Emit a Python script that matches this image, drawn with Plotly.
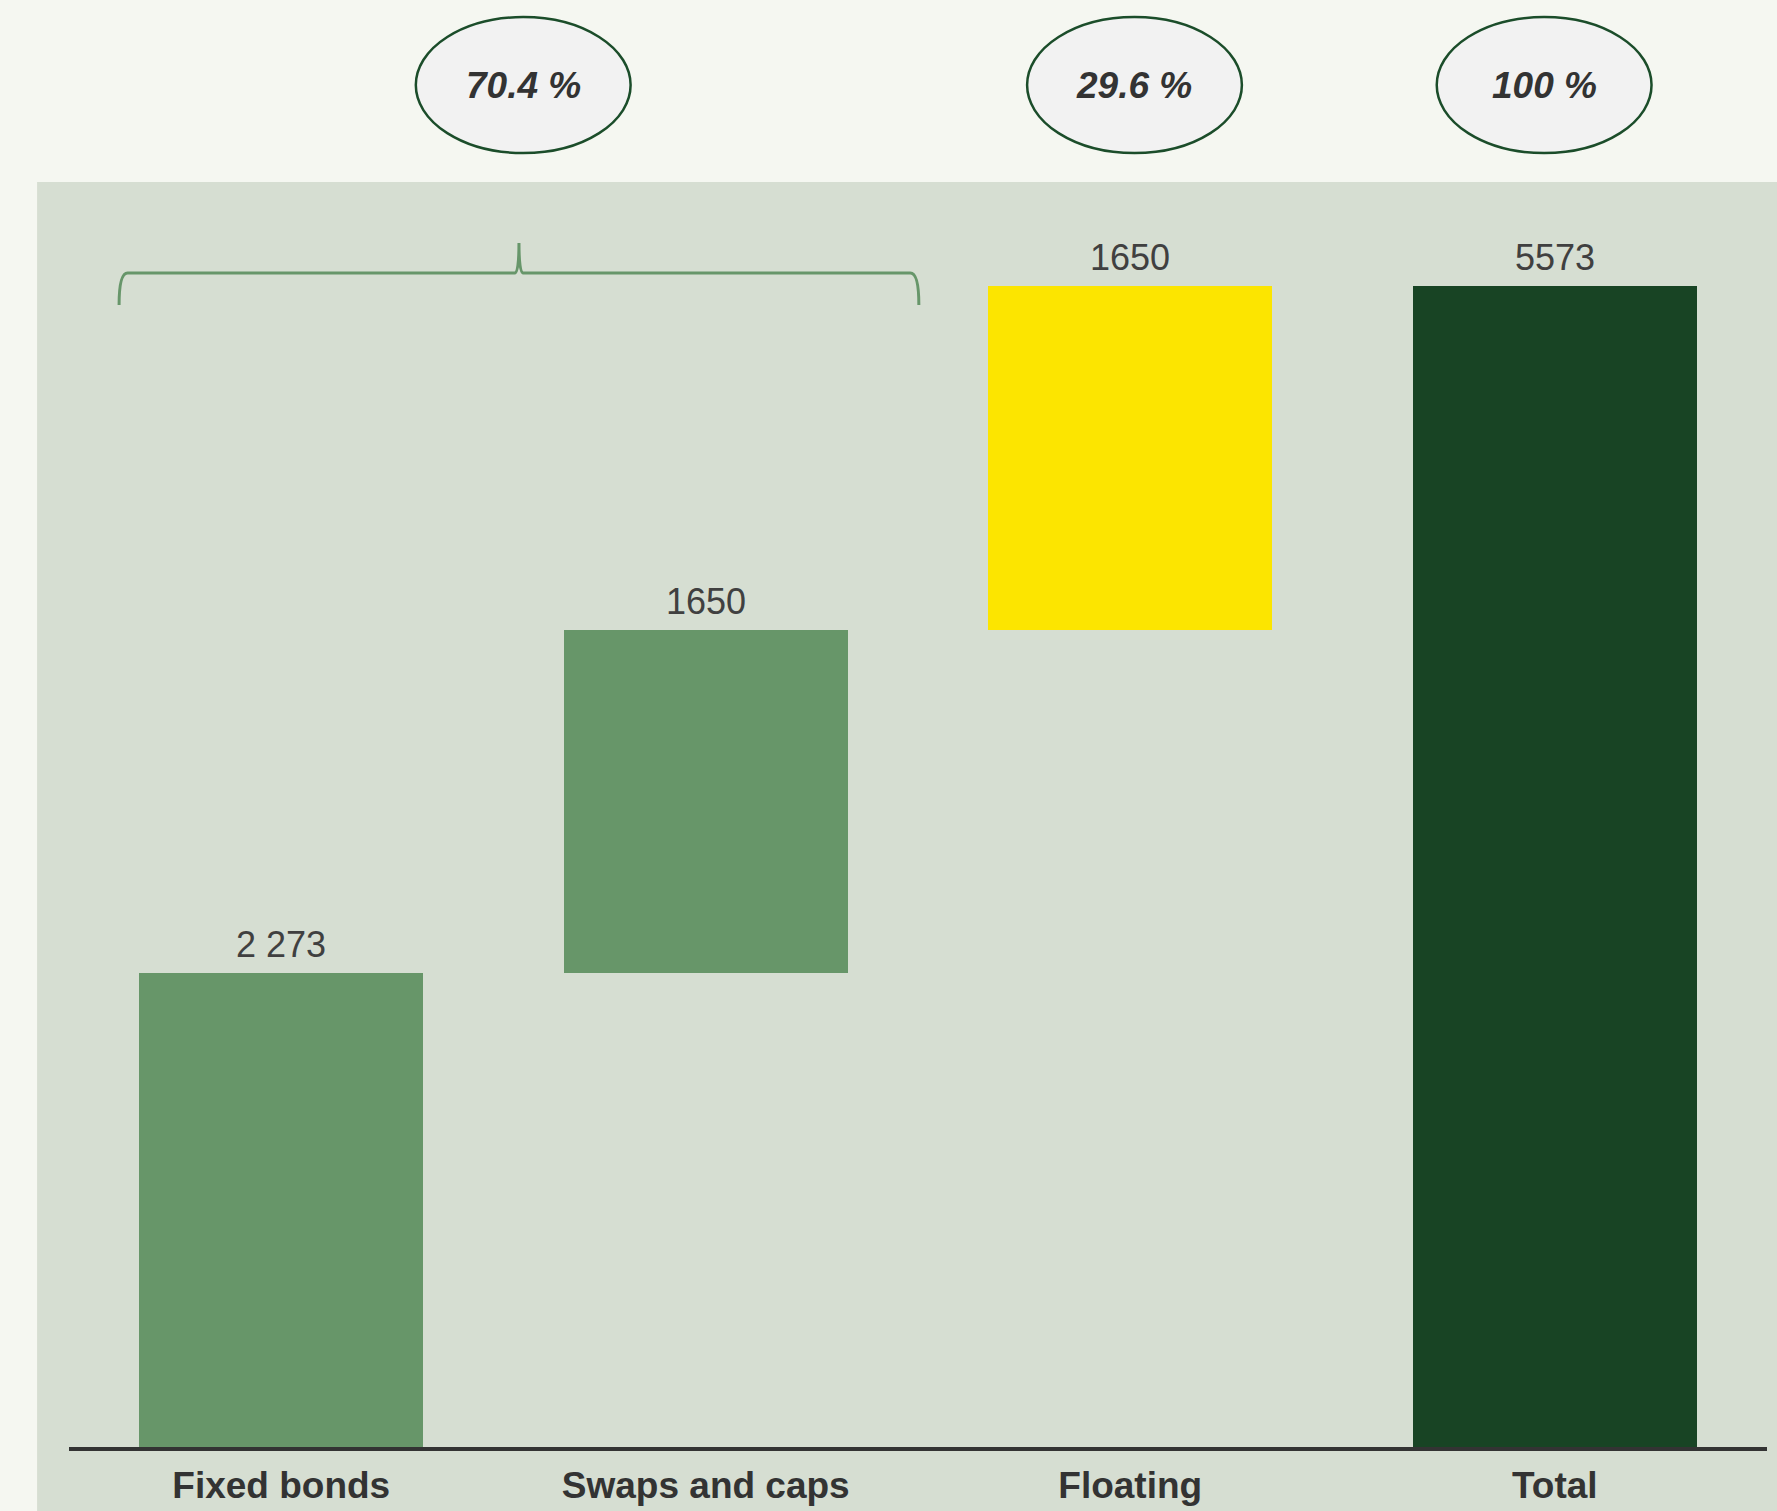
import plotly.graph_objects as go

categories = ["Fixed bonds", "Swaps and caps", "Floating", "Total"]
values = [2273, 1650, 1650, 5573]
is_total = [False, False, False, True]
value_labels = ["2 273", "1650", "1650", "5573"]
bar_colors = ["#679669", "#679669", "#FCE500", "#184424"]
pct_labels = ["70.4 %", "29.6 %", "100 %"]
pct_centers = [0.57, 2.01, 2.975]

# cumulative bases for the waterfall
bases = []
running = 0
for v, t in zip(values, is_total):
    if t:
        bases.append(0)
    else:
        bases.append(running)
        running += v
tops = [b + v for b, v in zip(bases, values)]
xpos = list(range(len(categories)))

fig = go.Figure()
fig.add_trace(go.Bar(
    x=xpos, y=values, base=bases, width=0.67,
    marker=dict(color=bar_colors, line=dict(width=0)),
    hoverinfo="skip", showlegend=False,
))

for x, top, lab in zip(xpos, tops, value_labels):
    fig.add_annotation(x=x, y=top, text=lab, showarrow=False, yanchor="bottom",
                       yshift=6, font=dict(family="Liberation Sans, Arial", size=36, color="#404040"))

shapes = []
# panel background
shapes.append(dict(type="rect", xref="paper", yref="paper", x0=-0.0188, x1=1.01, y0=-0.06, y1=1.0,
                   fillcolor="#D6DED2", line=dict(width=0), layer="below"))
# brace
bx0, bx1, btip = -0.382, 1.502, 0.56
yl, yb, yt = 5635, 5482, 5779
path = (f"M {bx0},{yb} Q {bx0},{yl} {bx0+0.02},{yl} L {btip-0.01},{yl} "
        f"Q {btip},{yl} {btip},{yt} Q {btip},{yl} {btip+0.01},{yl} "
        f"L {bx1-0.02},{yl} Q {bx1},{yl} {bx1},{yb}")
shapes.append(dict(type="path", xref="x", yref="y", path=path,
                   line=dict(color="#67966A", width=3)))
# ellipses
half_w = 0.253
for c, lab in zip(pct_centers, pct_labels):
    shapes.append(dict(type="circle", xref="x", yref="paper", x0=c - half_w, x1=c + half_w,
                       y0=1.0229, y1=1.1304, fillcolor="#F2F2F2",
                       line=dict(color="#1B4D2A", width=2.5)))
    fig.add_annotation(x=c, y=1.0766, xref="x", yref="paper", text=f"<b><i>{lab}</i></b>",
                       showarrow=False, xanchor="center", yanchor="middle",
                       font=dict(family="Liberation Sans, Arial", size=37, color="#333333"))

fig.update_layout(
    width=1777, height=1511,
    margin=dict(l=69, r=10, t=182, b=64, autoexpand=False),
    paper_bgcolor="#F5F7F1",
    plot_bgcolor="rgba(0,0,0,0)",
    shapes=shapes,
    bargap=0,
    xaxis=dict(range=[-0.5, 3.5], tickvals=xpos, ticktext=[f"<b>{c}</b>" for c in categories],
               showgrid=False, zeroline=False, showline=True, linecolor="#333333", linewidth=4,
               ticks="", ticklabelstandoff=3, automargin=False,
               tickfont=dict(family="Liberation Sans, Arial", size=37, color="#333333")),
    yaxis=dict(range=[0, 6072], visible=False, automargin=False),
)

fig.write_html("out.html", config={"displayModeBar": False},
               post_script="document.body.style.margin='0';document.body.style.background='#F5F7F1';")
